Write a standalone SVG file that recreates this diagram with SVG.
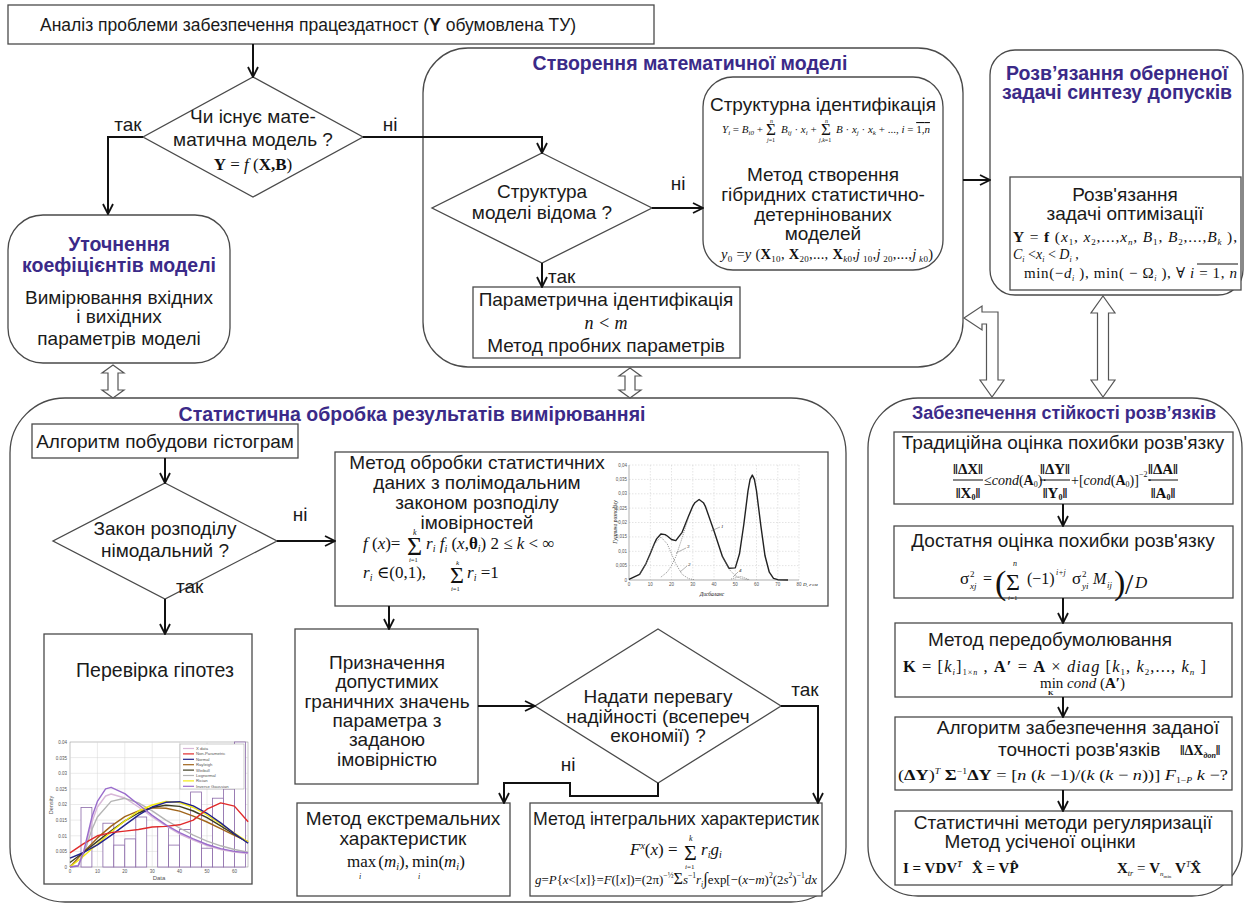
<svg xmlns="http://www.w3.org/2000/svg" width="1246" height="904" viewBox="0 0 1246 904">
<defs>
<style>
.bx{fill:#fff;stroke:#4a4a4a;stroke-width:1.3}
.ct{fill:#fff;stroke:#4a4a4a;stroke-width:1.3}
.t{font-family:"Liberation Sans",Arial,"DejaVu Sans",sans-serif;font-size:19px;fill:#1a1a1a;text-anchor:middle}
.ts{text-anchor:start}
.h{font-family:"Liberation Sans",Arial,sans-serif;font-size:19.5px;font-weight:bold;fill:#3b2a88;text-anchor:middle}
.m{font-family:"Liberation Serif","Times New Roman","DejaVu Serif",serif;font-size:15px;fill:#111}
.i{font-style:italic}
.b{font-weight:bold}
.c{fill:none;stroke:#111;stroke-width:2;marker-end:url(#ah)}
.ho{fill:#fff;stroke:#555;stroke-width:1.2}
.g{stroke:#d6d6d6;stroke-width:0.5;fill:none}
.gd{stroke:#c8c8c8;stroke-width:0.5;stroke-dasharray:1.5 1.5;fill:none}
.ax{font-family:"Liberation Sans",Arial,sans-serif;font-size:4.5px;fill:#555}
.cv{fill:none;stroke-width:1.4;stroke-linejoin:round}
</style>
<marker id="ah" viewBox="0 0 12 12" refX="11" refY="6" markerWidth="12" markerHeight="12" markerUnits="userSpaceOnUse" orient="auto"><path d="M1,1 L11,6 L1,11" fill="none" stroke="#111" stroke-width="1.8"/></marker>
</defs>
<rect x="0" y="0" width="1246" height="904" fill="#fff"/>

<!-- containers -->
<g id="container-model">
<rect class="ct" x="423" y="48" width="540" height="319" rx="45"/>
<text class="h" x="690" y="70">Створення математичної моделі</text>
</g>
<g id="container-inverse">
<rect class="ct" x="990" y="50" width="253" height="245" rx="25"/>
<text class="h" x="1117" y="80">Розв’язання оберненої</text>
<text class="h" x="1117" y="99">задачі синтезу допусків</text>
</g>
<g id="container-stat">
<rect class="ct" x="10" y="398" width="836" height="504" rx="55"/>
<text class="h" x="412" y="421">Статистична обробка результатів вимірюванняі</text>
</g>
<g id="container-stab">
<rect class="ct" x="868" y="398" width="374" height="498" rx="50"/>
<text class="h" x="1064" y="419" style="font-size:18px">Забезпечення стійкості розв’язків</text>
</g>

<!-- top -->
<g id="n-analysis">
<rect class="bx" x="8" y="5" width="646" height="39"/>
<text class="t ts" x="40" y="31" style="font-size:17.5px">Аналіз проблеми забезпечення працездатност (<tspan font-weight="bold">Y</tspan> обумовлена ТУ)</text>
</g>

<g id="n-exists">
<polygon class="bx" points="253,77 363,137 253,197 143,137"/>
<text class="t" x="253" y="123">Чи існує мате-</text>
<text class="t" x="253" y="146">матична модель ?</text>
<text class="m" x="253" y="170" text-anchor="middle" style="font-size:17px"><tspan class="b">Y</tspan> = <tspan class="i">f</tspan> (<tspan class="b">X,B</tspan>)</text>
</g>

<g id="n-refine">
<rect class="bx" x="8" y="215" width="222" height="148" rx="35"/>
<text class="h" x="119" y="251">Уточнення</text>
<text class="h" x="119" y="272">коефіцієнтів моделі</text>
<text class="t" x="119" y="304">Вимірювання вхідних</text>
<text class="t" x="119" y="323">і вихідних</text>
<text class="t" x="119" y="345">параметрів моделі</text>
</g>

<g id="n-structure">
<polygon class="bx" points="542,153 652,208 542,263 432,208"/>
<text class="t" x="542" y="198">Структура</text>
<text class="t" x="542" y="219">моделі  відома ?</text>
</g>

<g id="n-structid">
<rect class="bx" x="703" y="77" width="240" height="193" rx="30"/>
<text class="t" x="823" y="111">Структурна ідентифікація</text>
<g class="m" style="font-size:11px">
<text x="722" y="133"><tspan class="i">Y</tspan><tspan font-size="7" dy="2" class="i">i</tspan><tspan dy="-2"> = </tspan><tspan class="i">B</tspan><tspan font-size="7" dy="2" class="i">i0</tspan><tspan dy="-2"> +</tspan></text>
<text x="766" y="135" style="font-size:17px">Σ</text>
<text x="770" y="123" class="i" style="font-size:6px">n</text>
<text x="767" y="142" style="font-size:6px"><tspan class="i">j</tspan>=1</text>
<text x="781" y="133"><tspan class="i">B</tspan><tspan font-size="7" dy="2" class="i">ij</tspan><tspan dy="-2"> · </tspan><tspan class="i">x</tspan><tspan font-size="7" dy="2" class="i">i</tspan><tspan dy="-2"> +</tspan></text>
<text x="821" y="135" style="font-size:17px">Σ</text>
<text x="825" y="123" class="i" style="font-size:6px">n</text>
<text x="819" y="142" style="font-size:6px"><tspan class="i">j,k</tspan>=1</text>
<text x="836" y="133"><tspan class="i">B</tspan> · <tspan class="i">x</tspan><tspan font-size="7" dy="2" class="i">j</tspan><tspan dy="-2"> · </tspan><tspan class="i">x</tspan><tspan font-size="7" dy="2" class="i">k</tspan><tspan dy="-2"> + ...,  </tspan><tspan class="i">i</tspan> = <tspan text-decoration="overline">1,<tspan class="i">n</tspan></tspan></text>
</g>
<text class="t" x="823" y="181">Метод створення</text>
<text class="t" x="823" y="201">гібридних  статистично-</text>
<text class="t" x="823" y="221">детернінованих</text>
<text class="t" x="823" y="240">моделей</text>
<text class="m" x="721" y="259" style="font-size:14.5px" textLength="212" lengthAdjust="spacing"><tspan class="i">y</tspan><tspan font-size="9" dy="3">0</tspan><tspan dy="-3"> =</tspan><tspan class="i">y</tspan>  (<tspan class="b">X</tspan><tspan font-size="9" dy="3">10</tspan><tspan dy="-3">, </tspan><tspan class="b">X</tspan><tspan font-size="9" dy="3">20</tspan><tspan dy="-3">,..., </tspan><tspan class="b">X</tspan><tspan font-size="9" dy="3" class="i">k</tspan><tspan font-size="9">0</tspan><tspan dy="-3">,</tspan><tspan class="i">j</tspan><tspan font-size="9" dy="3"> 10</tspan><tspan dy="-3">,</tspan><tspan class="i">j</tspan><tspan font-size="9" dy="3"> 20</tspan><tspan dy="-3">,...,</tspan><tspan class="i">j</tspan><tspan font-size="9" dy="3" class="i"> k</tspan><tspan font-size="9">0</tspan><tspan dy="-3">)</tspan></text>
</g>

<g id="n-paramid">
<rect class="bx" x="473" y="287" width="267" height="71"/>
<text class="t" x="606" y="306">Параметрична ідентифікація</text>
<text class="m i" x="606" y="329" text-anchor="middle" style="font-size:18px">n &lt; m</text>
<text class="t" x="606" y="352">Метод пробних параметрів</text>
</g>

<g id="n-optim">
<rect class="bx" x="1010" y="177" width="231" height="113"/>
<text class="t" x="1125" y="201">Розв'язання</text>
<text class="t" x="1125" y="220">задачі оптимізації</text>
<text class="m" x="1013" y="242" style="font-size:15.5px" textLength="224" lengthAdjust="spacing"><tspan class="b">Y</tspan> = <tspan class="b">f</tspan> (<tspan class="i">x</tspan><tspan font-size="9" dy="3">1</tspan><tspan dy="-3">, </tspan><tspan class="i">x</tspan><tspan font-size="9" dy="3">2</tspan><tspan dy="-3">,...,</tspan><tspan class="i">x</tspan><tspan font-size="9" dy="3" class="i">n</tspan><tspan dy="-3">, </tspan><tspan class="i">B</tspan><tspan font-size="9" dy="3">1</tspan><tspan dy="-3">, </tspan><tspan class="i">B</tspan><tspan font-size="9" dy="3">2</tspan><tspan dy="-3">,...,</tspan><tspan class="i">B</tspan><tspan font-size="9" dy="3" class="i">k</tspan><tspan dy="-3"> ),</tspan></text>
<text class="m" x="1013" y="259" style="font-size:14px"><tspan class="i">C</tspan><tspan font-size="8" dy="3" class="i">i</tspan><tspan dy="-3"> &lt;</tspan><tspan class="i">x</tspan><tspan font-size="8" dy="3" class="i">i</tspan><tspan dy="-3"> &lt; </tspan><tspan class="i">D</tspan><tspan font-size="8" dy="3" class="i">i</tspan><tspan dy="-3"> ,</tspan></text>
<text class="m" x="1024" y="278" style="font-size:15px" textLength="213" lengthAdjust="spacing">min(−<tspan class="i">d</tspan><tspan font-size="8" dy="3" class="i">i</tspan><tspan dy="-3"> ),  min( − Ω</tspan><tspan font-size="8" dy="3" class="i">i</tspan><tspan dy="-3"> ), ∀ </tspan><tspan class="i">i</tspan> = 1,  <tspan class="i">n</tspan></text>
<line x1="1197" y1="264" x2="1238" y2="264" stroke="#111" stroke-width="1"/>
</g>

<!-- statistics -->
<g id="n-histalg">
<rect class="bx" x="32" y="424" width="266" height="34"/>
<text class="t" x="165" y="448">Алгоритм побудови гістограм</text>
</g>
<g id="n-unimodal">
<polygon class="bx" points="165,483 277,541 165,599 53,541"/>
<text class="t" x="165" y="535">Закон розподілу</text>
<text class="t" x="165" y="557">німодальний ?</text>
</g>

<g id="n-polymodal">
<rect class="bx" x="335" y="452" width="493" height="154"/>
<text class="t" x="477" y="469">Метод обробки статистичних</text>
<text class="t" x="477" y="489">даних з  полімодальним</text>
<text class="t" x="477" y="509">законом розподілу</text>
<text class="t" x="477" y="529">імовірностей</text>
<text class="m" x="363" y="549" style="font-size:17px"><tspan class="i">f</tspan> (<tspan class="i">x</tspan>)=</text>
<text class="m" x="407" y="555" style="font-size:26px">Σ</text>
<text class="m i" x="413" y="535" style="font-size:8px">k</text>
<text class="m" x="409" y="562" style="font-size:6.5px"><tspan class="i">i</tspan>=1</text>
<text class="m" x="426" y="549" style="font-size:17px"><tspan class="i">r</tspan><tspan font-size="10" dy="3" class="i">i</tspan><tspan dy="-3"> </tspan><tspan class="i">f</tspan><tspan font-size="10" dy="3" class="i">i</tspan><tspan dy="-3"> (</tspan><tspan class="i">x</tspan>,<tspan class="b">θ</tspan><tspan font-size="10" dy="3" class="i">i</tspan><tspan dy="-3">)   2 ≤ </tspan><tspan class="i">k</tspan> &lt; ∞</text>
<text class="m" x="363" y="578" style="font-size:17px"><tspan class="i">r</tspan><tspan font-size="10" dy="3" class="i">i</tspan><tspan dy="-3"> ∈(0,1),</tspan></text>
<text class="m" x="450" y="583" style="font-size:24px">Σ</text>
<text class="m i" x="456" y="565" style="font-size:7px">k</text>
<text class="m" x="451" y="591" style="font-size:6.5px"><tspan class="i">i</tspan>=1</text>
<text class="m" x="467" y="578" style="font-size:17px"><tspan class="i">r</tspan><tspan font-size="10" dy="3" class="i">i</tspan><tspan dy="-3"> =1</tspan></text>
<!-- chart 1 -->
<g id="chart-poly">
<path class="gd" d="M629,465H799M629,479.4H799M629,493.8H799M629,508.1H799M629,522.5H799M629,536.9H799M629,551.3H799M629,565.6H799M650.3,465V580M671.5,465V580M692.8,465V580M714,465V580M735.3,465V580M756.5,465V580M777.8,465V580M799,465V580"/>
<path d="M629,465V580H799" fill="none" stroke="#777" stroke-width="0.6"/>
<g class="ax" text-anchor="end">
<text x="627" y="467">0,04</text><text x="627" y="481">0,035</text><text x="627" y="495">0,03</text><text x="627" y="510">0,025</text><text x="627" y="524">0,02</text><text x="627" y="538">0,015</text><text x="627" y="553">0,01</text><text x="627" y="567">0,005</text><text x="627" y="582">0</text>
</g>
<g class="ax" text-anchor="middle">
<text x="629" y="586">0</text><text x="650.3" y="586">10</text><text x="671.5" y="586">20</text><text x="692.8" y="586">30</text><text x="714" y="586">40</text><text x="735.3" y="586">50</text><text x="756.5" y="586">60</text><text x="777.8" y="586">70</text><text x="799" y="586">80</text>
</g>
<text class="m i" x="803" y="586" style="font-size:5px">D, г·см</text>
<text class="m i" x="712" y="596" text-anchor="middle" style="font-size:5.5px">Дисбаланс</text>
<text class="m i" x="617" y="522" text-anchor="middle" transform="rotate(-90 617 522)" style="font-size:5.5px">Густина розподілу</text>
<polyline class="cv" stroke="#222" stroke-width="1.6" points="629,579.4 639.6,574.3 646,563.6 650.3,553.5 654.5,543.2 656.6,538.9 660.9,534 665.1,534.6 667.3,536 671.5,539.5 675.8,540.6 682.1,532.3 688.5,516.2 692.8,506.1 694.9,502.7 699.1,499.5 703.4,502.7 705.5,506.7 714,531.1 722.5,556.7 728.9,568.2 735.3,567.9 739.5,553.8 743.8,524.5 748,490.9 750.1,479.4 752.3,475.1 754.4,479.4 756.5,490.9 760.8,525.4 765,555.8 769.3,572.2 773.5,578.3 777.8,579.7 788,580"/>
<polyline fill="none" stroke="#777" stroke-width="0.7" stroke-dasharray="1.2 1" points="639.6,574.3 646,563.9 650.3,553.8 654.5,544 660.9,537 667.3,544 671.5,553.8 675.8,563.9 682.1,574.3 688.5,578.6 694,579.6"/>
<polyline fill="none" stroke="#777" stroke-width="0.7" stroke-dasharray="1.2 1" points="660.9,577.1 667.3,572 671.5,565.6 675.8,556.7 682.1,538 688.5,517.6"/>
<polyline fill="none" stroke="#777" stroke-width="0.7" stroke-dasharray="1.2 1" points="722.5,556.7 728.9,569.1 735.3,575.7 741.6,578.6 748,579.7"/>
<polyline fill="none" stroke="#777" stroke-width="0.7" stroke-dasharray="1.2 1" points="731,579 737,577.5 741,576.5 745,578 750,580"/>
<path d="M711,531L720,527M676,553L686,548M680,572L687,566M733,577L738,572" stroke="#666" stroke-width="0.5" fill="none"/>
<g class="m i" style="font-size:5px"><text x="721" y="528">1</text><text x="687" y="548">3</text><text x="688" y="566">2</text><text x="739" y="572">4</text></g>
</g>
</g>

<g id="n-hyp">
<rect class="bx" x="44" y="634" width="208" height="250"/>
<text class="t" x="155" y="677" style="font-size:19.5px">Перевірка гіпотез</text>
<g id="chart-hyp">
<rect x="70" y="742" width="178" height="125" fill="#fff" stroke="#888" stroke-width="0.5"/>
<path class="g" d="M97.4,742V867M124.8,742V867M152.2,742V867M179.6,742V867M207,742V867M234.4,742V867M70,851.4H248M70,835.8H248M70,820.1H248M70,804.5H248M70,788.9H248M70,773.3H248M70,757.6H248"/>
<g fill="#fff" stroke="#8a68a8" stroke-width="0.8">
<rect x="81" y="807.6" width="10.9" height="59.4"/>
<rect x="102.9" y="823.2" width="10.9" height="43.8"/>
<rect x="113.8" y="845.1" width="11" height="21.9"/>
<rect x="124.8" y="838.9" width="11" height="28.1"/>
<rect x="135.8" y="817" width="10.9" height="50"/>
<rect x="157.7" y="826.4" width="10.9" height="40.6"/>
<rect x="168.6" y="845.1" width="11" height="21.9"/>
<rect x="179.6" y="829.5" width="11" height="37.5"/>
<rect x="190.6" y="792" width="10.9" height="75"/>
<rect x="201.5" y="848.2" width="11" height="18.8"/>
<rect x="212.5" y="798.2" width="10.9" height="68.8"/>
<rect x="223.4" y="789" width="11" height="78"/>
<rect x="234.4" y="742" width="11" height="125"/>
</g>
<polyline class="cv" stroke="#d8b8d8" points="70,867 78.2,866 83.7,853 91.9,822 97.4,807 105.6,796 111.1,794 124.8,798 138.5,807 152.2,817 165.9,826 179.6,834 193.3,840 207,845.5 220.7,849.5 234.4,852 248.1,853.5"/>
<polyline class="cv" stroke="#b4b4b4" points="70,867 78.2,865.4 83.7,854.5 91.9,829.5 97.4,817 111.1,801.4 124.8,798.3 138.5,802.9 152.2,810.8 165.9,820.1 179.6,828 193.3,835.1 207,841.1 220.7,845.8 234.4,849.5 248.1,852.3"/>
<polyline class="cv" stroke="#a0641a" points="70,867 83.7,851.9 97.4,837.9 111.1,826.1 124.8,816.7 138.5,810.8 152.2,807.9 165.9,808.2 179.6,811.1 193.3,816.1 207,822 220.7,828.6 234.4,835.4 248.1,841.7"/>
<polyline class="cv" stroke="#3e3e22" points="70,862.5 83.7,852.2 97.4,841.4 111.1,830.8 124.8,820.9 138.5,813 152.2,807.5 165.9,805.3 179.6,806.4 193.3,811 207,817.7 220.7,825.8 234.4,834.5 248.1,842.5"/>
<polyline class="cv" stroke="#f2ea10" points="70,867 83.7,856 97.4,844 111.1,832 124.8,821 138.5,811 152.2,805 165.9,801.5 179.6,802.5 193.3,807.5 207,815 220.7,824 234.4,833 248.1,842"/>
<polyline class="cv" stroke="#22228a" points="70,858.1 83.7,852.5 97.4,844.8 111.1,835.4 124.8,825.1 138.5,815.1 152.2,807 165.9,802.3 179.6,801.7 193.3,805.8 207,813.3 220.7,822.9 234.4,833.6 248.1,843.3"/>
<polyline class="cv" stroke="#e02a2a" points="70,852.9 83.7,843.6 97.4,835.8 111.1,832.6 124.8,831.1 138.5,829.5 152.2,827 165.9,826.4 179.6,824.8 193.3,820.1 207,809.2 220.7,802.9 234.4,806.1 248.1,821.7"/>
<polyline class="cv" stroke="#9a6ccc" points="70,867 78.2,866 83.7,851.4 91.9,817 97.4,801.4 105.6,788.9 111.1,787.3 124.8,793.6 138.5,804.5 152.2,815.4 165.9,824.8 179.6,832.6 193.3,838.9 207,844.5 220.7,848.6 234.4,851.4 248.1,852.9"/>
<rect x="180" y="744" width="64" height="45" fill="#fff" stroke="#999" stroke-width="0.5"/>
<g stroke-width="1.2">
<line x1="183" y1="748.5" x2="194" y2="748.5" stroke="#d8b8d8"/>
<line x1="183" y1="753.9" x2="194" y2="753.9" stroke="#e02a2a"/>
<line x1="183" y1="759.3" x2="194" y2="759.3" stroke="#22228a"/>
<line x1="183" y1="764.7" x2="194" y2="764.7" stroke="#a0641a"/>
<line x1="183" y1="770.1" x2="194" y2="770.1" stroke="#3e3e22"/>
<line x1="183" y1="775.5" x2="194" y2="775.5" stroke="#b4b4b4"/>
<line x1="183" y1="780.9" x2="194" y2="780.9" stroke="#f2ea10"/>
<line x1="183" y1="786.3" x2="194" y2="786.3" stroke="#9a6ccc"/>
</g>
<g class="ax" style="font-size:4.2px">
<text x="196" y="750">X data</text><text x="196" y="755.4">Non-Parametric</text><text x="196" y="760.8">Normal</text><text x="196" y="766.2">Rayleigh</text><text x="196" y="771.6">Weibull</text><text x="196" y="777">Lognormal</text><text x="196" y="782.4">Rician</text><text x="196" y="787.8">Inverse Gaussian</text>
</g>
<g class="ax" text-anchor="end">
<text x="67" y="869">0</text><text x="67" y="853">0.005</text><text x="67" y="838">0.01</text><text x="67" y="822">0.015</text><text x="67" y="806">0.02</text><text x="67" y="791">0.025</text><text x="67" y="775">0.03</text><text x="67" y="760">0.035</text><text x="67" y="744">0.04</text>
</g>
<g class="ax" text-anchor="middle">
<text x="70" y="873">0</text><text x="97.4" y="873">10</text><text x="124.8" y="873">20</text><text x="152.2" y="873">30</text><text x="179.6" y="873">40</text><text x="207" y="873">50</text><text x="234.4" y="873">60</text>
</g>
<text class="ax" x="159" y="880" text-anchor="middle" style="font-size:6px">Data</text>
<text class="ax" x="53" y="805" text-anchor="middle" transform="rotate(-90 53 805)" style="font-size:5.5px">Density</text>
</g>
</g>

<g id="n-assign">
<rect class="bx" x="295" y="629" width="183" height="155"/>
<text class="t" x="387" y="669">Призначення</text>
<text class="t" x="387" y="688">допустимих</text>
<text class="t" x="387" y="708">граничних значень</text>
<text class="t" x="387" y="727">параметра з</text>
<text class="t" x="387" y="746">заданою</text>
<text class="t" x="387" y="766">імовірністю</text>
</g>
<g id="n-priority">
<polygon class="bx" points="658,629 781,706 658,783 535,706"/>
<text class="t" x="658" y="703">Надати перевагу</text>
<text class="t" x="658" y="723">надійності (всепереч</text>
<text class="t" x="658" y="742">економії) ?</text>
</g>
<g id="n-extreme">
<rect class="bx" x="297" y="803" width="213" height="93"/>
<text class="t" x="403" y="825">Метод екстремальних</text>
<text class="t" x="403" y="845">характеристик</text>
<text class="m" x="347" y="867" style="font-size:17px">max<tspan dx="2">(</tspan><tspan class="i">m</tspan><tspan font-size="10" dy="3" class="i">i</tspan><tspan dy="-3">),</tspan><tspan dx="3">min</tspan>(<tspan class="i">m</tspan><tspan font-size="10" dy="3" class="i">i</tspan><tspan dy="-3">)</tspan></text>
<text class="m i" x="359" y="879" style="font-size:8px">i</text>
<text class="m i" x="418" y="879" style="font-size:8px">i</text>
</g>
<g id="n-integral">
<rect class="bx" x="530" y="803" width="292" height="93"/>
<text class="t" x="676" y="825" textLength="286" lengthAdjust="spacingAndGlyphs">Метод інтегральних характеристик</text>
<text class="m" x="630" y="855" style="font-size:17px"><tspan class="i">F</tspan><tspan font-size="10" dy="-6" class="i">x</tspan><tspan dy="6">(</tspan><tspan class="i">x</tspan>) =</text>
<text class="m" x="684" y="860" style="font-size:22px">Σ</text>
<text class="m i" x="689" y="841" style="font-size:8px">k</text>
<text class="m" x="685" y="869" style="font-size:7px"><tspan class="i">i</tspan>=1</text>
<text class="m" x="701" y="855" style="font-size:17px"><tspan class="i">r</tspan><tspan font-size="10" dy="3" class="i">i</tspan><tspan dy="-3" class="i">g</tspan><tspan font-size="10" dy="3" class="i">i</tspan></text>
<text class="m" x="535" y="884" style="font-size:13.5px" textLength="282" lengthAdjust="spacingAndGlyphs"><tspan class="i">g</tspan>=<tspan class="i">P</tspan>{<tspan class="i">x</tspan>&lt;[<tspan class="i">x</tspan>]}=<tspan class="i">F</tspan>([<tspan class="i">x</tspan>])=(2π)<tspan font-size="8" dy="-6">−½</tspan><tspan dy="6" font-size="17">Σ</tspan><tspan class="i">s</tspan><tspan font-size="8" dy="-6">−1</tspan><tspan dy="6" class="i">r</tspan><tspan font-size="8" dy="3" class="i">i</tspan><tspan dy="-3" font-size="17">∫</tspan>exp[−(<tspan class="i">x</tspan>−<tspan class="i">m</tspan>)<tspan font-size="8" dy="-6">2</tspan><tspan dy="6">(2</tspan><tspan class="i">s</tspan><tspan font-size="8" dy="-6">2</tspan><tspan dy="6">)</tspan><tspan font-size="8" dy="-6">−1</tspan><tspan dy="6" class="i">dx</tspan></text>
</g>

<!-- stability -->
<g id="n-trad">
<rect class="bx" x="894" y="432" width="339" height="72"/>
<text class="t" x="1063" y="449">Традиційна оцінка похибки розв'язку</text>
<g class="m b" style="font-size:15px" text-anchor="middle">
<text x="968" y="474">‖ΔX‖</text><text x="968" y="498">‖X<tspan font-size="8" dy="2">0</tspan><tspan dy="-2">‖</tspan></text>
<text x="1055" y="474">‖ΔY‖</text><text x="1055" y="498">‖Y<tspan font-size="8" dy="2">0</tspan><tspan dy="-2">‖</tspan></text>
<text x="1163" y="474">‖ΔA‖</text><text x="1163" y="498">‖A<tspan font-size="8" dy="2">0</tspan><tspan dy="-2">‖</tspan></text>
</g>
<path d="M953,480H983M1040,480H1070M1148,480H1178" stroke="#111" stroke-width="1"/>
<text class="m" x="984" y="485" style="font-size:14px">≤<tspan class="i">cond</tspan>(<tspan class="b">A</tspan><tspan font-size="8" dy="2">0</tspan><tspan dy="-2">)·</tspan></text>
<text class="m" x="1071" y="485" style="font-size:14px">+[<tspan class="i">cond</tspan>(<tspan class="b">A</tspan><tspan font-size="8" dy="2">0</tspan><tspan dy="-2">)]</tspan><tspan font-size="8" dy="-8">−2</tspan><tspan dy="8">·</tspan></text>
</g>

<g id="n-suff">
<rect class="bx" x="894" y="526" width="339" height="72"/>
<text class="t" x="1063" y="547">Достатня оцінка похибки розв'язку</text>
<g class="m">
<text x="960" y="584" style="font-size:17px">σ</text>
<text x="970" y="577" style="font-size:9px">2</text>
<text x="970" y="589" class="i" style="font-size:9px">xj</text>
<text x="983" y="584" style="font-size:16px">=</text>
<text x="995" y="594" style="font-size:34px">(</text>
<text x="1006" y="590" style="font-size:24px">Σ</text>
<text x="1013" y="566" class="i" style="font-size:8px">n</text>
<text x="1008" y="600" style="font-size:7px"><tspan class="i">i</tspan>=1</text>
<text x="1027" y="584" style="font-size:16px">(−1)</text>
<text x="1056" y="575" class="i" style="font-size:8px">i+j</text>
<text x="1072" y="584" style="font-size:17px">σ</text>
<text x="1082" y="577" style="font-size:9px">2</text>
<text x="1082" y="589" class="i" style="font-size:9px">yi</text>
<text x="1093" y="584" class="i" style="font-size:16px">M</text>
<text x="1107" y="588" class="i" style="font-size:9px">ij</text>
<text x="1114" y="594" style="font-size:34px">)</text>
<text x="1125" y="594" style="font-size:30px">/</text>
<text x="1135" y="588" class="i" style="font-size:17px">D</text>
</g>
</g>

<g id="n-precond">
<rect class="bx" x="895" y="623" width="337" height="74"/>
<text class="t" x="1050" y="646">Метод передобумолювання</text>
<text class="m" x="903" y="672" style="font-size:16.5px" textLength="303" lengthAdjust="spacing"><tspan class="b">K</tspan> = [<tspan class="i">k</tspan><tspan font-size="9" dy="3" class="i">i</tspan><tspan dy="-3">]</tspan><tspan font-size="8" dy="3">1×<tspan class="i">n</tspan></tspan><tspan dy="-3"> , </tspan><tspan class="b">A′</tspan> = <tspan class="b">A</tspan> × <tspan class="i">diag</tspan> [<tspan class="i">k</tspan><tspan font-size="9" dy="3">1</tspan><tspan dy="-3">, </tspan><tspan class="i">k</tspan><tspan font-size="9" dy="3">2</tspan><tspan dy="-3">,..., </tspan><tspan class="i">k</tspan><tspan font-size="9" dy="3" class="i">n</tspan><tspan dy="-3"> ]</tspan></text>
<text class="m" x="1040" y="688" style="font-size:15px">min <tspan class="i">cond</tspan> (<tspan class="b">A′</tspan>)</text>
<text class="m b" x="1048" y="695" style="font-size:7px">K</text>
</g>

<g id="n-accuracy">
<rect class="bx" x="895" y="717" width="337" height="73"/>
<text class="t" x="1078" y="734">Алгоритм забезпечення заданої</text>
<text class="t ts" x="998" y="756">точності розв'язків</text>
<text class="m b" x="1180" y="755" style="font-size:14px">‖ΔX<tspan font-size="8" dy="3" class="i">доп</tspan><tspan dy="-3">‖</tspan></text>
<text class="m" x="898" y="780" style="font-size:15px" textLength="330" lengthAdjust="spacingAndGlyphs">(<tspan class="b">ΔY</tspan>)<tspan font-size="8" dy="-6" class="i">T</tspan><tspan dy="6"> </tspan><tspan class="b">Σ</tspan><tspan font-size="8" dy="-6">−1</tspan><tspan dy="6" class="b">ΔY</tspan> = [<tspan class="i">n</tspan> (<tspan class="i">k</tspan> −1)/(<tspan class="i">k</tspan> (<tspan class="i">k</tspan> − <tspan class="i">n</tspan>))] <tspan class="i">F</tspan><tspan font-size="8" dy="3">1−<tspan class="i">P</tspan></tspan><tspan dy="-3">    </tspan><tspan class="i">k</tspan> −?</text>
</g>

<g id="n-regul">
<rect class="bx" x="895" y="811" width="337" height="74"/>
<text class="t" x="1063" y="829">Статистичні методи регуляризації</text>
<text class="t" x="1040" y="848">Метод усіченої оцінки</text>
<text class="m b" x="903" y="873" style="font-size:15px">I = VDV<tspan font-size="8" dy="-6" class="i">T</tspan></text>
<text class="m b" x="972" y="873" style="font-size:15px">X̂ = VP̂</text>
<text class="m" x="1117" y="873" style="font-size:15px"><tspan class="b">X</tspan><tspan font-size="8" dy="3" class="i">tr</tspan><tspan dy="-3"> = </tspan><tspan class="b">V</tspan><tspan font-size="7" dy="3" class="i">n</tspan><tspan font-size="5" dy="2">min</tspan><tspan dy="-5"> </tspan><tspan class="b">V</tspan><tspan font-size="8" dy="-6" class="i">T</tspan><tspan dy="6" class="b">X̂</tspan></text>
</g>

<!-- hollow arrows -->
<g id="hollow-arrows">
<path class="ho" d="M113,365 L124,373 L118,373 L118,390 L124,390 L113,398 L102,390 L108,390 L108,373 L102,373 Z"/>
<path class="ho" d="M630,368 L641,376 L635,376 L635,390 L641,390 L630,398 L619,390 L625,390 L625,376 L619,376 Z"/>
<path class="ho" d="M1103,296 L1115,313 L1108.5,313 L1108.5,380 L1115,380 L1103,397 L1091,380 L1097.5,380 L1097.5,313 L1091,313 Z"/>
<path class="ho" d="M964,318 L982,306 L982,312 L998,312 L998,380 L1004,380 L992,397 L980,380 L986.5,380 L986.5,324 L982,324 L982,330 Z"/>
</g>

<!-- connectors -->
<g id="connectors">
<path class="c" d="M253,44V77"/>
<path class="c" d="M143,137H108V214"/>
<path class="c" d="M363,137H542V153"/>
<path class="c" d="M652,208H703"/>
<path class="c" d="M542,263V287"/>
<path class="c" d="M963,180H990"/>
<path class="c" d="M165,458V483"/>
<path class="c" d="M277,541H335"/>
<path class="c" d="M165,599V634"/>
<path class="c" d="M389,606V629"/>
<path class="c" d="M478,706H535"/>
<path class="c" d="M781,706H818V803"/>
<path class="c" d="M658,783V796H570V783H504V803"/>
<path class="c" d="M1063,504V526"/>
<path class="c" d="M1063,598V623"/>
<path class="c" d="M1063,697V717"/>
<path class="c" d="M1063,790V811"/>
</g>

<!-- connector labels -->
<g id="labels">
<text class="t" x="128" y="131">так</text>
<text class="t" x="390" y="131">ні</text>
<text class="t" x="678" y="190">ні</text>
<text class="t ts" x="548" y="283">так</text>
<text class="t" x="300" y="521">ні</text>
<text class="t ts" x="176" y="593">так</text>
<text class="t" x="805" y="696">так</text>
<text class="t" x="568" y="771">ні</text>
</g>
</svg>
